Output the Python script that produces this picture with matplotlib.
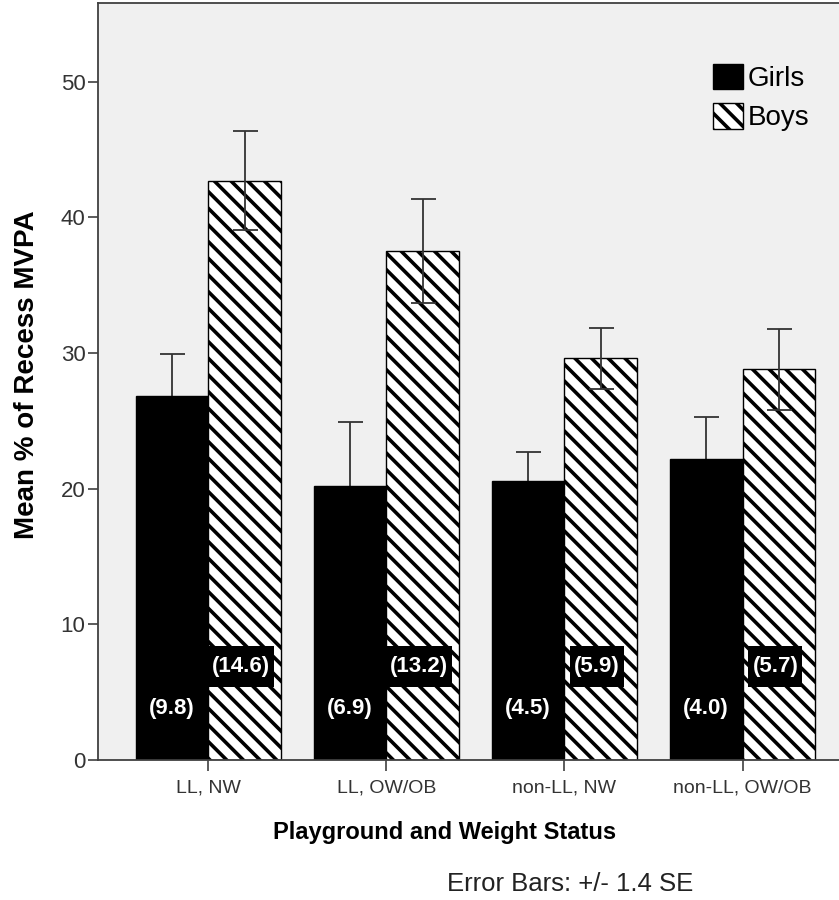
import numpy as np
import matplotlib
matplotlib.use("Agg")
import matplotlib.pyplot as plt

# data
groups = ["LL, NW", "LL, OW/OB", "non-LL, NW", "non-LL, OW/OB"]
girls = [26.8, 20.2, 20.6, 22.2]
boys = [42.7, 37.5, 29.6, 28.8]
girls_err = [3.1, 4.7, 2.1, 3.1]
boys_err = [3.65, 3.85, 2.25, 3.0]
girls_n = ["(9.8)", "(6.9)", "(4.5)", "(4.0)"]
boys_n = ["(14.6)", "(13.2)", "(5.9)", "(5.7)"]

plt.rcParams['font.family'] = ['Liberation Sans', 'DejaVu Sans']
plt.rcParams['hatch.linewidth'] = 2.6

fig = plt.figure(figsize=(8.39, 9.0), dpi=100)
ax = fig.add_axes([98/839, 1-760/900, 1-98/839+0.002, (760-3)/900])
ax.set_facecolor('#F0F0F0')

x = np.arange(len(groups))
w = 0.408
ax.bar(x - w/2, girls, w, color='black', edgecolor='black', linewidth=1, zorder=2, label='Girls')
ax.bar(x + w/2, boys, w, color='white', edgecolor='black', linewidth=1, hatch='\\\\', zorder=2, label='Boys')

ax.errorbar(x - w/2, girls, yerr=girls_err, fmt='none', ecolor='#333333', elinewidth=1.3, capsize=9, capthick=1.3, zorder=1.5)
ax.errorbar(x + w/2, boys, yerr=boys_err, fmt='none', ecolor='#333333', elinewidth=1.3, capsize=9, capthick=1.3, zorder=3)

# sample sizes in brackets
for i in range(len(groups)):
    ax.text(x[i] - w/2, 3.8, girls_n[i], color='white', fontsize=16, fontweight='bold', ha='center', va='center', zorder=4)
    ax.text(x[i] + w/2 - 0.02, 6.9, boys_n[i], color='white', fontsize=16, fontweight='bold', ha='center', va='center', zorder=4,
            bbox=dict(boxstyle='square,pad=0.18', mutation_aspect=2.5, facecolor='black', edgecolor='none'))

ax.set_xlim(-0.619, 3.551)
ax.set_ylim(0, 55.8)
ax.set_yticks([0, 10, 20, 30, 40, 50])
ax.set_xticks(x)
ax.set_xticklabels(groups)
ax.tick_params(axis='y', length=7, width=1.2, color='#404040', labelsize=16, labelcolor='#333333', pad=2)
ax.tick_params(axis='x', length=8, width=1.2, color='#404040', labelsize=14, labelcolor='#333333', pad=6)
for s in ax.spines.values():
    s.set_color('#404040')
    s.set_linewidth(1.3)

ax.legend(loc='upper left', bbox_to_anchor=(0.8286, 0.92), frameon=False, fontsize=20,
          handlelength=1.05, handleheight=1.05, handletextpad=0.2, labelspacing=0.4, borderpad=0, borderaxespad=0)

fig.text(27/839, 1-375/900, "Mean % of Recess MVPA", rotation=90, fontsize=20, fontweight='bold', ha='center', va='center')
fig.text(445/839, 1-832/900, "Playground and Weight Status", fontsize=17, fontweight='bold', ha='center', va='center')
fig.text(570/839, 1-884/900, "Error Bars: +/- 1.4 SE", fontsize=18.5, ha='center', va='center', color='#222222')

fig.savefig("out.png", dpi=100)
